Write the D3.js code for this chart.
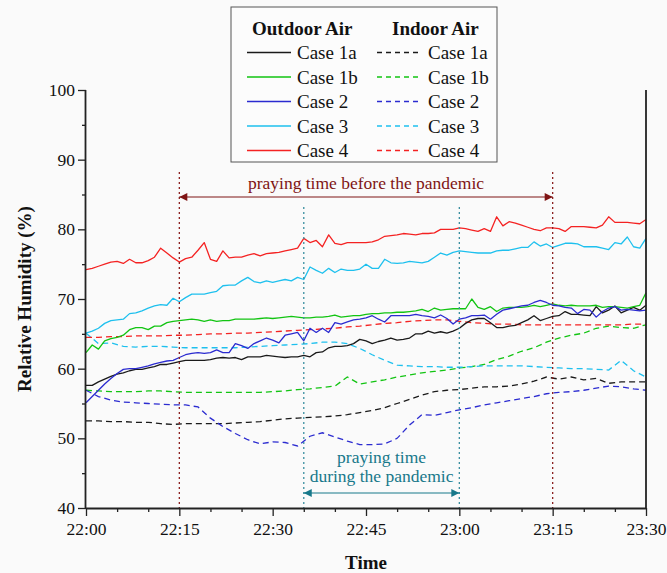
<!DOCTYPE html>
<html>
<head>
<meta charset="utf-8">
<script src="https://cdn.jsdelivr.net/npm/d3@7"></script>
<style>
  html, body { margin: 0; padding: 0; background: #fafafa; }
  svg { display: block; font-family: "Liberation Serif", "Times New Roman", serif; }
</style>
</head>
<body>
<svg id="chart" width="667" height="573"></svg>
<script>
// ---------- DATA ----------
const tickMinutes = [0, 15, 30, 45, 60, 75, 90];
const tickLabels = ["22:00", "22:15", "22:30", "22:45", "23:00", "23:15", "23:30"];
const yTicks = [40, 50, 60, 70, 80, 90, 100];

const minutesOutdoor = d3.range(0, 91, 1);
const minutesIndoor = d3.range(0, 91, 2);

const outCase1a = [57.6,57.6,58.1,58.5,58.9,59.2,59.4,59.7,59.9,59.9,60.1,60.3,60.6,60.6,60.8,61.0,61.2,61.2,61.2,61.2,61.3,61.5,61.6,61.5,61.6,61.3,61.7,61.7,61.7,61.9,61.8,61.7,61.6,61.7,61.7,61.9,61.7,62.3,62.4,63.0,63.2,63.2,63.3,63.6,64.2,64.0,63.6,63.9,64.1,64.4,64.1,64.2,64.4,65.0,65.0,65.4,65.1,65.3,65.1,65.4,65.8,66.5,67.0,67.2,67.2,66.6,65.9,65.9,66.1,66.2,66.6,67.0,67.6,66.9,67.2,67.5,67.6,68.2,67.8,67.8,67.7,67.6,68.9,68.0,68.4,69.0,68.0,68.4,68.8,68.4,69.1];
const outCase1b = [62.3,63.4,62.8,64.0,64.3,64.5,64.8,65.6,65.9,65.9,65.6,66.1,66.1,66.6,66.8,66.9,67.0,67.1,67.0,66.8,67.0,66.8,66.9,66.9,67.1,67.1,67.1,67.1,67.2,67.3,67.2,67.3,67.4,67.5,67.4,67.3,67.3,67.4,67.4,67.5,67.7,67.4,67.5,67.6,67.6,67.8,67.9,67.9,68.0,68.0,68.1,68.1,68.2,68.3,68.5,68.2,68.7,68.4,68.5,68.6,68.6,68.6,70.0,68.8,68.5,68.9,68.2,68.7,68.8,68.8,68.8,68.9,69.1,68.9,69.1,69.3,69.1,69.0,69.1,69.0,69.0,69.0,69.1,68.8,68.9,68.9,68.8,68.7,68.9,69.1,70.9];
const outCase2 = [55.1,56.0,56.9,57.8,58.6,59.3,59.9,60.0,60.0,60.2,60.4,60.7,60.9,61.1,61.2,61.6,62.0,62.2,62.3,62.2,62.3,62.7,62.3,62.3,63.6,63.3,62.9,63.6,64.0,64.4,64.1,63.7,64.8,65.0,65.2,64.0,65.8,65.2,65.8,65.2,66.6,66.4,66.7,67.0,67.1,67.3,67.6,67.1,66.7,67.6,67.6,67.6,67.6,67.8,67.6,67.5,67.3,67.7,67.2,66.4,67.1,67.3,67.6,67.6,67.7,67.1,67.8,68.4,68.6,68.8,69.0,69.1,69.5,69.8,69.5,69.1,69.0,68.8,68.7,67.9,68.5,68.4,67.4,68.2,68.7,68.9,68.4,68.5,68.4,68.3,68.4];
const outCase3 = [65.1,65.4,65.8,66.5,66.9,67.0,67.1,67.9,68.0,68.3,68.7,69.0,69.2,69.1,70.1,69.6,70.2,70.7,70.7,70.7,70.9,71.1,71.9,72.0,72.0,72.6,73.1,72.5,72.3,72.6,72.4,72.6,72.8,72.6,73.1,72.8,74.6,74.1,73.7,74.4,73.8,74.3,74.1,74.1,74.3,75.0,74.4,74.4,75.7,75.2,75.1,75.2,75.4,75.3,75.2,75.4,76.0,76.6,76.3,76.7,76.9,76.8,76.7,76.6,76.6,76.6,76.9,77.0,77.0,77.2,77.4,77.4,78.2,77.6,77.9,77.4,77.7,78.0,78.0,77.9,77.5,77.5,77.5,77.3,77.1,78.1,77.9,78.9,77.5,77.3,78.7];
const outCase4 = [74.2,74.4,74.7,75.0,75.3,75.4,75.1,75.7,75.2,75.2,75.5,76.0,77.3,76.6,75.9,75.3,75.8,76.0,77.0,78.1,75.7,75.4,76.9,75.9,76.0,76.0,76.3,76.5,76.2,76.5,76.6,76.7,76.9,77.1,77.3,78.7,78.1,78.4,77.5,79.2,78.0,77.8,78.1,78.1,78.1,78.1,78.2,78.5,79.0,79.1,79.2,79.4,79.3,79.2,79.4,79.4,79.5,80.0,80.0,80.0,80.2,80.1,79.9,79.7,80.1,79.7,81.8,80.5,81.1,80.9,80.6,80.3,80.0,79.8,80.2,80.2,80.1,79.7,80.4,80.4,80.4,80.3,80.2,80.6,81.8,81.0,81.0,81.0,80.9,80.8,81.4];

const inCase1a = [52.5,52.5,52.4,52.4,52.3,52.3,52.1,52.0,52.1,52.1,52.1,52.1,52.2,52.3,52.4,52.6,52.8,52.9,53.0,53.1,53.2,53.4,53.7,54.0,54.4,55.0,55.6,56.2,56.7,56.9,57.0,57.2,57.4,57.4,57.5,57.8,58.2,58.8,58.5,58.8,58.4,58.6,57.9,58.1,58.1,58.1];
const inCase1b = [56.9,56.8,56.7,56.7,56.7,56.8,56.8,56.7,56.6,56.6,56.6,56.6,56.6,56.6,56.6,56.7,56.8,57.0,57.1,57.3,57.5,58.8,57.8,58.1,58.4,58.8,59.1,59.4,59.6,59.8,60.1,60.3,60.6,61.3,61.8,62.5,63.0,63.8,64.4,64.8,65.1,65.8,66.1,65.9,65.8,66.3];
const inCase2 = [56.9,56.0,55.5,55.2,55.1,55.0,54.9,54.8,54.8,54.5,52.9,51.7,50.7,49.8,49.2,49.5,49.4,48.9,50.3,50.8,50.2,49.6,49.1,49.1,49.2,50.0,51.9,53.4,53.3,53.7,54.1,54.4,54.8,55.1,55.4,55.7,56.0,56.4,56.6,56.7,56.9,57.2,57.5,57.4,57.1,56.9];
const inCase3 = [65.1,63.6,63.7,63.2,63.1,63.2,63.2,63.1,63.0,63.0,63.0,63.0,63.0,63.1,63.2,63.3,63.4,63.5,63.6,63.8,63.8,63.6,62.9,62.0,61.2,60.5,60.4,60.3,60.3,60.2,60.2,60.3,60.4,60.4,60.4,60.4,60.3,60.2,60.1,60.0,60.0,59.9,59.8,61.2,59.7,58.8];
const inCase4 = [64.5,64.5,64.6,64.6,64.7,64.7,64.7,64.8,64.8,64.9,65.0,65.0,65.1,65.1,65.2,65.3,65.4,65.5,65.6,65.7,65.8,66.0,66.1,66.3,66.5,66.6,66.8,66.9,67.0,67.0,66.8,66.6,66.5,66.4,66.4,66.3,66.3,66.3,66.3,66.3,66.3,66.3,66.3,66.3,66.4,66.4];

const caseNames = ["Case 1a", "Case 1b", "Case 2", "Case 3", "Case 4"];
const caseColors = ["#1a1a1a", "#12c412", "#2b2bd0", "#1ec0ee", "#f42222"];
const outdoorSeries = [outCase1a, outCase1b, outCase2, outCase3, outCase4];
const indoorSeries = [inCase1a, inCase1b, inCase2, inCase3, inCase4];

// praying periods (minutes after 22:00)
const beforePeriod = [15, 75];
const duringPeriod = [35, 60];

// ---------- CHART ----------
const svg = d3.select("#chart");
const pLeft = 86, pRight = 646, pTop = 90, pBottom = 508;

const x = d3.scaleLinear().domain([0, 90]).range([pLeft, pRight]);
const y = d3.scaleLinear().domain([40, 100]).range([pBottom, pTop]);

svg.append("rect").attr("width", 667).attr("height", 573).attr("fill", "#fafafa");

const line = (times) => d3.line().x((d, i) => x(times[i])).y(d => y(d));

const plot = svg.append("g");
indoorSeries.forEach((s, k) => {
  plot.append("path").datum(s)
    .attr("d", line(minutesIndoor))
    .attr("fill", "none").attr("stroke", caseColors[k])
    .attr("stroke-width", 1.3).attr("stroke-dasharray", "6,4");
});
outdoorSeries.forEach((s, k) => {
  plot.append("path").datum(s)
    .attr("d", line(minutesOutdoor))
    .attr("fill", "none").attr("stroke", caseColors[k])
    .attr("stroke-width", 1.3).attr("stroke-linejoin", "round");
});

// annotation lines
const red = "#7f1414", teal = "#17788a";
beforePeriod.forEach(m => {
  svg.append("line").attr("x1", x(m)).attr("x2", x(m)).attr("y1", 172).attr("y2", pBottom)
    .attr("stroke", "#8b2020").attr("stroke-width", 1.3).attr("stroke-dasharray", "2,3");
});
duringPeriod.forEach(m => {
  svg.append("line").attr("x1", x(m)).attr("x2", x(m)).attr("y1", 207).attr("y2", pBottom)
    .attr("stroke", "#3a8fa0").attr("stroke-width", 1.3).attr("stroke-dasharray", "2,3");
});

const defs = svg.append("defs");
function marker(id, color) {
  defs.append("marker").attr("id", id).attr("viewBox", "0 0 10 10")
    .attr("refX", 10).attr("refY", 5).attr("markerWidth", 12).attr("markerHeight", 8)
    .attr("markerUnits", "userSpaceOnUse").attr("orient", "auto-start-reverse")
    .append("path").attr("d", "M0,0 L10,5 L0,10 Z").attr("fill", color);
}
marker("arrRed", red);
marker("arrTeal", teal);

svg.append("line").attr("x1", x(beforePeriod[0])).attr("x2", x(beforePeriod[1]))
  .attr("y1", 197).attr("y2", 197).attr("stroke", red).attr("stroke-width", 1.2)
  .attr("marker-start", "url(#arrRed)").attr("marker-end", "url(#arrRed)");
svg.append("text").attr("x", (x(beforePeriod[0]) + x(beforePeriod[1])) / 2).attr("y", 189)
  .attr("text-anchor", "middle").attr("font-size", 17.5).attr("fill", red)
  .text("praying time before the pandemic");

svg.append("line").attr("x1", x(duringPeriod[0])).attr("x2", x(duringPeriod[1]))
  .attr("y1", 493).attr("y2", 493).attr("stroke", teal).attr("stroke-width", 1.2)
  .attr("marker-start", "url(#arrTeal)").attr("marker-end", "url(#arrTeal)");
const midT = (x(duringPeriod[0]) + x(duringPeriod[1])) / 2;
svg.append("text").attr("x", midT).attr("y", 463).attr("text-anchor", "middle")
  .attr("font-size", 17.5).attr("fill", teal).text("praying time");
svg.append("text").attr("x", midT).attr("y", 482).attr("text-anchor", "middle")
  .attr("font-size", 17.5).attr("fill", teal).text("during the pandemic");

// axes
const axisColor = "#222";
const minorX = d3.range(0, 91, 5).filter(m => !tickMinutes.includes(m));
const minorY = d3.range(45, 100, 10);

const gx = svg.append("g").attr("transform", `translate(0,${pBottom})`)
  .call(d3.axisBottom(x).tickValues(tickMinutes).tickSize(8).tickPadding(7)
    .tickFormat((d, i) => tickLabels[i]));
const gxm = svg.append("g").attr("transform", `translate(0,${pBottom})`)
  .call(d3.axisBottom(x).tickValues(minorX).tickSize(4).tickFormat(""));
const gy = svg.append("g").attr("transform", `translate(${pLeft},0)`)
  .call(d3.axisLeft(y).tickValues(yTicks).tickSize(8).tickPadding(3));
const gym = svg.append("g").attr("transform", `translate(${pLeft},0)`)
  .call(d3.axisLeft(y).tickValues(minorY).tickSize(4).tickFormat(""));

[gx, gxm, gy, gym].forEach(g => {
  g.selectAll("path.domain").attr("stroke", axisColor).attr("stroke-width", 1.8);
  g.selectAll(".tick line").attr("stroke", axisColor).attr("stroke-width", 1.3);
  g.selectAll(".tick text").attr("font-family", "Liberation Serif, serif")
    .attr("font-size", 17.5).attr("fill", "#111");
});
gxm.select("path.domain").remove();
gym.select("path.domain").remove();
gx.select("path.domain").attr("d", `M${pLeft},0.5H${pRight}`);
gy.select("path.domain").attr("d", `M-0.5,${pTop}V${pBottom}`);

// right border
svg.append("line").attr("x1", pRight).attr("x2", pRight).attr("y1", pTop).attr("y2", pBottom)
  .attr("stroke", axisColor).attr("stroke-width", 1.8);

// axis titles
svg.append("text").attr("x", (pLeft + pRight) / 2).attr("y", 569).attr("text-anchor", "middle")
  .attr("font-size", 19).attr("font-weight", "bold").attr("fill", "#111").text("Time");
svg.append("text").attr("transform", `translate(31,${(pTop + pBottom) / 2}) rotate(-90)`)
  .attr("text-anchor", "middle").attr("font-size", 19).attr("font-weight", "bold")
  .attr("fill", "#111").text("Relative Humidity (%)");

// legend
const lg = svg.append("g");
lg.append("rect").attr("x", 231).attr("y", 7).attr("width", 266).attr("height", 155)
  .attr("fill", "#fcfcfc").attr("stroke", "#555").attr("stroke-width", 1);
lg.append("text").attr("x", 252).attr("y", 35).attr("font-size", 19).attr("font-weight", "bold")
  .attr("fill", "#111").text("Outdoor Air");
lg.append("text").attr("x", 392).attr("y", 35).attr("font-size", 19).attr("font-weight", "bold")
  .attr("fill", "#111").text("Indoor Air");
caseNames.forEach((name, k) => {
  const by = 59 + k * 24.5;
  const ly = by - 6.5;
  lg.append("line").attr("x1", 247).attr("x2", 291).attr("y1", ly).attr("y2", ly)
    .attr("stroke", caseColors[k]).attr("stroke-width", 1.3);
  lg.append("text").attr("x", 297).attr("y", by).attr("font-size", 19).attr("fill", "#111").text(name);
  lg.append("line").attr("x1", 377).attr("x2", 422).attr("y1", ly).attr("y2", ly)
    .attr("stroke", caseColors[k]).attr("stroke-width", 1.3).attr("stroke-dasharray", "5,4");
  lg.append("text").attr("x", 428).attr("y", by).attr("font-size", 19).attr("fill", "#111").text(name);
});
</script>
</body>
</html>
